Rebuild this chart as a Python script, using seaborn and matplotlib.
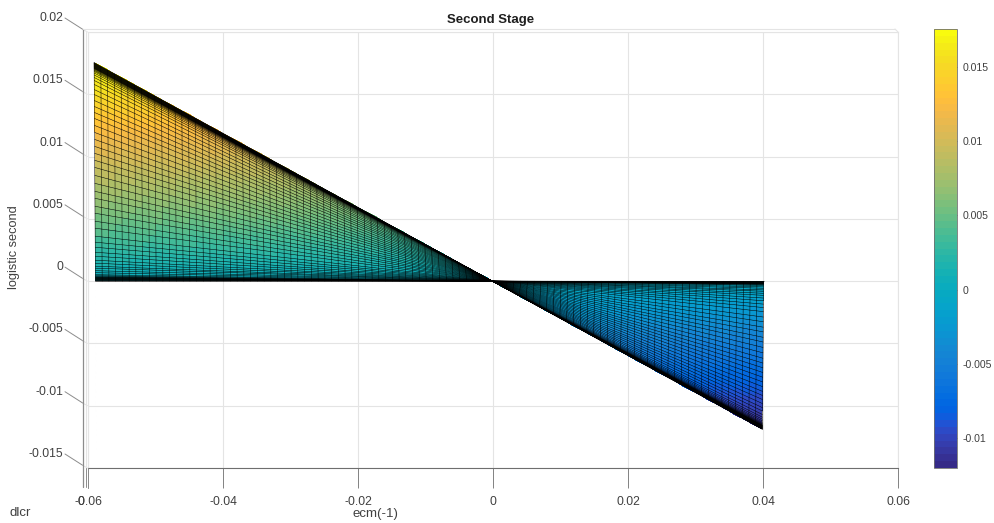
import numpy as np
import pandas as pd
import matplotlib
matplotlib.use('Agg')
import matplotlib.pyplot as plt
from matplotlib.colors import ListedColormap, Normalize
from matplotlib.cm import ScalarMappable
import seaborn as sns

# ecm(-1) value of each mesh column, in thousandths
ecm_milli = [-59, -58, -57, -56, -55, -54, -53, -52, -51, -50, -49, -48, -47, -46, -45, -44, -43, -42, -41, -40,
             -39, -38, -37, -36, -35, -34, -33, -32, -31, -30, -29, -28, -27, -26, -25, -24, -23, -22, -21, -20,
             -19, -18, -17, -16, -15, -14, -13, -12, -11, -10, -9, -8, -7, -6, -5, -4, -3, -2, -1, 0,
             1, 2, 3, 4, 5, 6, 7, 8, 9, 10, 11, 12, 13, 14, 15, 16, 17, 18, 19, 20,
             21, 22, 23, 24, 25, 26, 27, 28, 29, 30, 31, 32, 33, 34, 35, 36, 37, 38, 39, 40]

# height of each mesh row along the left edge (ecm = -0.059)
left_edge = [0.01755, 0.01752, 0.01750, 0.01748, 0.01745, 0.01743, 0.01740, 0.01738, 0.01736, 0.01733,
             0.01731, 0.01728, 0.01726, 0.01724, 0.01721, 0.01719, 0.01716, 0.01714, 0.01712, 0.01709,
             0.01707, 0.01703, 0.01697, 0.01691, 0.01683, 0.01671, 0.01655, 0.01635, 0.01611, 0.01579,
             0.01538, 0.01498, 0.01450, 0.01402, 0.01354, 0.01306, 0.01250, 0.01194, 0.01138, 0.01082,
             0.01026, 0.00970, 0.00913, 0.00849, 0.00785, 0.00721, 0.00665, 0.00601, 0.00545, 0.00481,
             0.00425, 0.00361, 0.00313, 0.00272, 0.00232, 0.00200, 0.00168, 0.00144, 0.00120, 0.00104,
             0.00084, 0.00068, 0.00052, 0.00044, 0.00038, 0.00034, 0.00031, 0.00029, 0.00026, 0.00024,
             0.00022, 0.00019, 0.00017, 0.00014, 0.00012, 0.00010, 0.00007, 0.00005, 0.00002, 0.0]

x_ticks = [-0.06, -0.04, -0.02, 0, 0.02, 0.04, 0.06]
x_labels = ['-0.06', '-0.04', '-0.02', '0', '0.02', '0.04', '0.06']
z_ticks = [0.02, 0.015, 0.01, 0.005, 0, -0.005, -0.01, -0.015]
z_labels = ['0.02', '0.015', '0.01', '0.005', '0', '-0.005', '-0.01', '-0.015']
cbar_ticks = [0.015, 0.01, 0.005, 0, -0.005, -0.01]
cbar_labels = ['0.015', '0.01', '0.005', '0', '-0.005', '-0.01']

# matlab parula
parula = [[0.2081, 0.1663, 0.5292], [0.2116, 0.1898, 0.5777], [0.2123, 0.2138, 0.6270], [0.2081, 0.2386, 0.6771],
          [0.1959, 0.2645, 0.7279], [0.1707, 0.2919, 0.7792], [0.1253, 0.3242, 0.8303], [0.0591, 0.3598, 0.8683],
          [0.0117, 0.3875, 0.8820], [0.0060, 0.4086, 0.8828], [0.0165, 0.4266, 0.8786], [0.0329, 0.4430, 0.8720],
          [0.0498, 0.4586, 0.8641], [0.0629, 0.4737, 0.8554], [0.0723, 0.4887, 0.8467], [0.0779, 0.5040, 0.8384],
          [0.0793, 0.5200, 0.8312], [0.0749, 0.5375, 0.8263], [0.0641, 0.5570, 0.8240], [0.0488, 0.5772, 0.8228],
          [0.0343, 0.5966, 0.8199], [0.0265, 0.6137, 0.8135], [0.0239, 0.6287, 0.8038], [0.0231, 0.6418, 0.7913],
          [0.0228, 0.6535, 0.7768], [0.0267, 0.6642, 0.7607], [0.0384, 0.6743, 0.7436], [0.0590, 0.6838, 0.7254],
          [0.0843, 0.6928, 0.7062], [0.1133, 0.7015, 0.6859], [0.1453, 0.7098, 0.6646], [0.1801, 0.7177, 0.6424],
          [0.2178, 0.7250, 0.6193], [0.2586, 0.7317, 0.5954], [0.3022, 0.7376, 0.5712], [0.3482, 0.7424, 0.5473],
          [0.3953, 0.7459, 0.5244], [0.4420, 0.7481, 0.5033], [0.4871, 0.7491, 0.4840], [0.5300, 0.7491, 0.4661],
          [0.5709, 0.7485, 0.4494], [0.6099, 0.7473, 0.4337], [0.6473, 0.7456, 0.4188], [0.6834, 0.7435, 0.4044],
          [0.7184, 0.7411, 0.3905], [0.7525, 0.7384, 0.3768], [0.7858, 0.7356, 0.3633], [0.8185, 0.7327, 0.3498],
          [0.8507, 0.7299, 0.3360], [0.8824, 0.7274, 0.3217], [0.9139, 0.7258, 0.3063], [0.9450, 0.7261, 0.2886],
          [0.9739, 0.7314, 0.2666], [0.9938, 0.7455, 0.2403], [0.9990, 0.7653, 0.2164], [0.9955, 0.7861, 0.1967],
          [0.9880, 0.8066, 0.1794], [0.9789, 0.8271, 0.1633], [0.9697, 0.8481, 0.1475], [0.9626, 0.8705, 0.1309],
          [0.9589, 0.8949, 0.1132], [0.9598, 0.9218, 0.0948], [0.9661, 0.9514, 0.0755], [0.9763, 0.9831, 0.0538]]

sns.set_theme(style='white')
plt.rcParams['font.family'] = ['Liberation Sans', 'DejaVu Sans']

W, H = 994, 523
TEXT = '#404040'
DARK = '#6e6e6e'
LIGHT = '#e4e4e4'
FS = 8.7

fig = plt.figure(figsize=(W / 100, H / 100), dpi=100, facecolor='white')
ax = fig.add_axes([88 / W, 1 - 468 / H, (898 - 88) / W, (468 - 32) / H])


def frame_line(x0, y0, x1, y1, color=DARK, lw=0.8):
    # the bits of the 3d box that stick out of the flat axes, in pixels
    fig.add_artist(plt.Line2D([x0 / W, x1 / W], [1 - y0 / H, 1 - y1 / H], color=color, lw=lw))


# surface: height is proportional to ecm, the row sets the slope
ecm = np.array(ecm_milli) / 1000
left = np.array(left_edge)
Z = np.outer(left, ecm) / ecm[0]
# the view is turned a little so the columns lean with the row
lean = left / left.max()
X = ecm[None, :] + 0.0001 - 0.0002 * lean[:, None]
z_norm = Normalize(-0.01203, 0.01757)
cmap = ListedColormap(parula)

ax.pcolormesh(X, Z, Z[:-1, :-1], cmap=cmap, norm=z_norm, shading='flat', zorder=2)

rows = pd.DataFrame({'x': X.ravel(), 'z': Z.ravel(),
                     'line': np.repeat(np.arange(len(left)), len(ecm))})
cols = pd.DataFrame({'x': X.T.ravel(), 'z': Z.T.ravel(),
                     'line': np.repeat(np.arange(len(ecm)), len(left)) + 1000})
mesh = pd.concat([rows, cols], ignore_index=True)
sns.lineplot(data=mesh, x='x', y='z', units='line', estimator=None, sort=False,
             color='black', lw=0.36, legend=False, ax=ax, zorder=3)

ax.set_xlim(-0.06, 0.06)
ax.set_ylim(-0.015, 0.02)
ax.set_xlabel('')
ax.set_ylabel('')

ax.set_xticks(x_ticks)
ax.set_xticklabels(x_labels, fontsize=FS, color=TEXT)
ax.set_yticks(z_ticks)
ax.set_yticklabels([])
ax.tick_params(axis='x', direction='out', length=14.4, width=0.6, color=DARK, pad=5.5, bottom=True)
ax.tick_params(axis='y', length=0)
ax.grid(True, color=LIGHT, lw=0.8, zorder=0)
ax.set_axisbelow(True)
for side in ['top', 'left', 'right']:
    ax.spines[side].set_color(LIGHT)
    ax.spines[side].set_linewidth(0.8)
ax.spines['bottom'].set_color(DARK)
ax.spines['bottom'].set_linewidth(0.8)

# slanted height ticks with their labels
for z, lab in zip(z_ticks, z_labels):
    ax.annotate(lab, xy=(0, z), xycoords=('axes fraction', 'data'), xytext=(-25, 14),
                textcoords='offset pixels', ha='right', va='center', fontsize=FS, color=TEXT,
                annotation_clip=False)
    y_px = ax.transData.transform((0, z))[1]
    frame_line(65, H - y_px - 14, 83, H - y_px - 2.5, color='#8c8c8c', lw=0.7)
    frame_line(83, H - y_px - 2.5, 87.5, H - y_px, color=LIGHT, lw=0.7)

# rest of the box
frame_line(83, 29, 83, 487, color='#8c8c8c', lw=0.9)
frame_line(85.5, 32, 85.5, 468, color=LIGHT)
frame_line(85.5, 468, 85.5, 487, color='#8c8c8c', lw=0.7)
frame_line(88, 468, 88, 488, color='#8c8c8c', lw=0.7)
frame_line(83, 29, 895, 29, color=LIGHT)
frame_line(895, 29, 898, 32, color=LIGHT)

# titles and labels
fig.text(491 / W, 1 - 20 / H, 'Second Stage', ha='center', va='center', fontsize=9.5,
         fontweight='bold', color='#1f1f1f')
fig.text(14 / W, 1 - 247 / H, 'logistic second', rotation=90, ha='center', va='center', fontsize=9.2, color=TEXT)
fig.text(375 / W, 1 - 514 / H, 'ecm(-1)', ha='center', va='center', fontsize=9.5, color=TEXT)
fig.text(20.5 / W, 1 - 513.5 / H, 'dlcr', ha='center', va='center', fontsize=9.5, color=TEXT)
fig.text(81 / W, 1 - 502 / H, '0', ha='center', va='center', fontsize=FS, color=TEXT)

# colorbar
cax = fig.add_axes([934 / W, 1 - 468 / H, (957 - 934) / W, (468 - 29) / H])
cb = fig.colorbar(ScalarMappable(norm=z_norm, cmap=cmap), cax=cax)
cb.set_ticks(cbar_ticks)
cb.set_ticklabels(cbar_labels)
cax.tick_params(axis='y', direction='in', length=3, width=0.6, color='#555555', labelsize=7.6,
                labelcolor=TEXT, pad=4, right=True, left=False)
cb.outline.set_edgecolor('#707070')
cb.outline.set_linewidth(0.6)

fig.savefig('out.png', dpi=100)
